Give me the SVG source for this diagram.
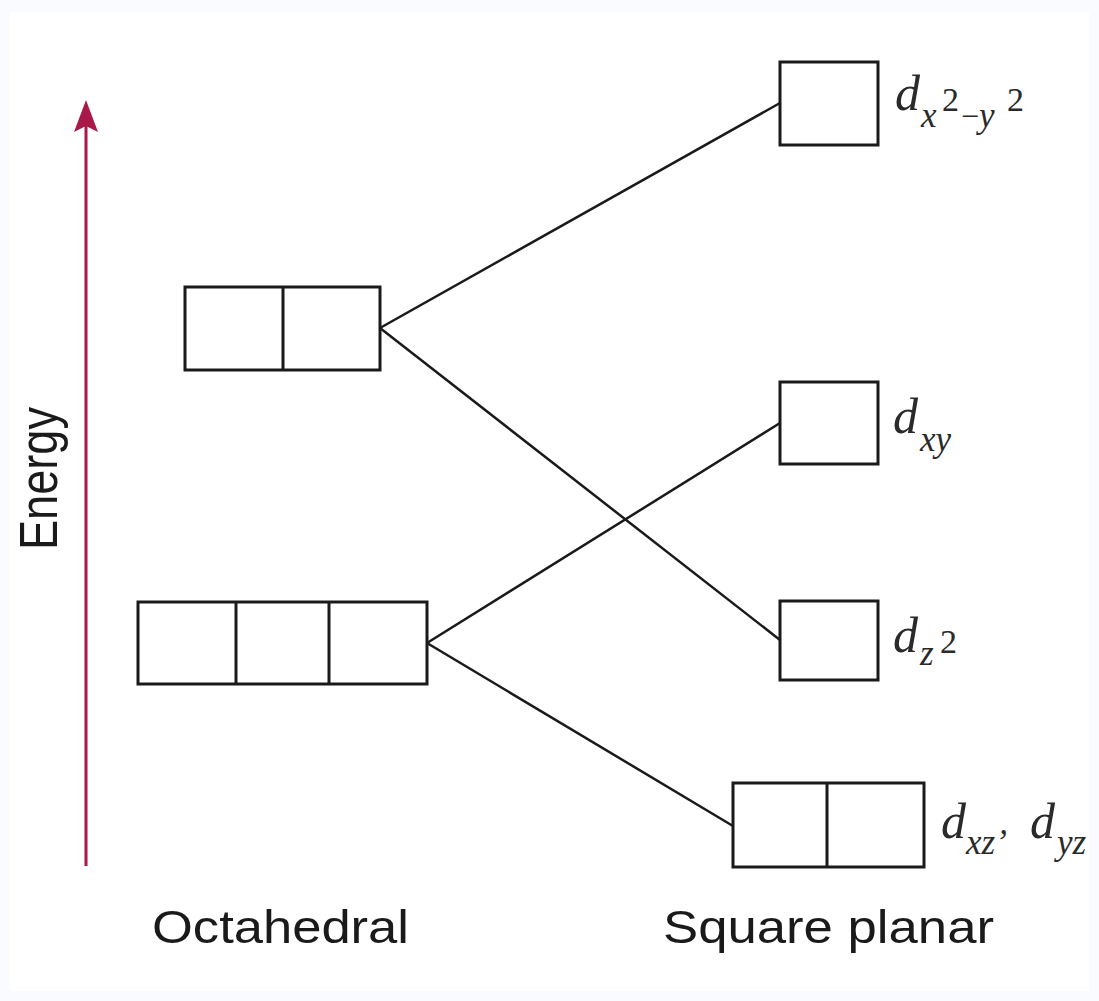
<svg xmlns="http://www.w3.org/2000/svg" width="1099" height="1001" viewBox="0 0 1099 1001">
<style>
.box{fill:#fff;stroke:#1a1a1a;stroke-width:3}
.div{stroke:#1a1a1a;stroke-width:3}
.conn{stroke:#1a1a1a;stroke-width:2.5;fill:none}
.sans{font-family:"Liberation Sans",Arial,sans-serif;fill:#1a1a1a}
.it{font-family:"Liberation Serif","Times New Roman",serif;font-style:italic;fill:#2a2a2a}
.up{font-family:"Liberation Serif","Times New Roman",serif;fill:#2a2a2a}
</style>
<rect x="0" y="0" width="1099" height="1001" fill="#f9fbfe"/>
<rect x="10" y="12" width="1079" height="979" fill="#fff"/>
<g id="connectors">
<line class="conn" x1="380" y1="328" x2="780" y2="103"/>
<line class="conn" x1="380" y1="328" x2="780" y2="640"/>
<line class="conn" x1="427" y1="643" x2="780" y2="423"/>
<line class="conn" x1="427" y1="643" x2="733" y2="826"/>
</g>
<g id="energy-axis">
<line x1="86" y1="866" x2="86" y2="125" stroke="#a8194a" stroke-width="3"/>
<path d="M86 100 L98 132 L86 126 L74 132 Z" fill="#a8194a"/>
<text class="sans" font-size="46" transform="translate(57,550) rotate(-90) scale(1,1.15)" textLength="143" lengthAdjust="spacingAndGlyphs">Energy</text>
</g>
<g id="eg-octahedral">
<rect class="box" x="185" y="287" width="195" height="83"/>
<line class="div" x1="283" y1="287" x2="283" y2="370"/>
</g>
<g id="t2g-octahedral">
<rect class="box" x="138" y="602" width="289" height="82"/>
<line class="div" x1="236" y1="602" x2="236" y2="684"/>
<line class="div" x1="329" y1="602" x2="329" y2="684"/>
</g>
<g id="dx2y2">
<rect class="box" x="780" y="62" width="98" height="83"/>
<text class="it" font-size="50" x="895" y="110">d</text>
<text class="it" font-size="35" x="921" y="127">x</text>
<text class="up" font-size="34" x="942" y="111">2</text>
<text class="up" font-size="32" x="961" y="127">−</text>
<text class="it" font-size="35" x="979" y="127">y</text>
<text class="up" font-size="34" x="1007" y="111">2</text>
</g>
<g id="dxy">
<rect class="box" x="780" y="382" width="98" height="82"/>
<text class="it" font-size="50" x="893" y="433">d</text>
<text class="it" font-size="35" x="920" y="451">xy</text>
</g>
<g id="dz2">
<rect class="box" x="780" y="601" width="98" height="79"/>
<text class="it" font-size="50" x="893" y="652">d</text>
<text class="it" font-size="35" x="920" y="665">z</text>
<text class="up" font-size="34" x="940" y="653">2</text>
</g>
<g id="dxz-dyz">
<rect class="box" x="733" y="783" width="191" height="84"/>
<line class="div" x1="827" y1="783" x2="827" y2="867"/>
<text class="it" font-size="50" x="941" y="838">d</text>
<text class="it" font-size="35" x="966" y="854">xz’</text>
<text class="it" font-size="50" x="1030" y="838">d</text>
<text class="it" font-size="35" x="1057" y="854">yz</text>
</g>
<g id="labels">
<text class="sans" font-size="46" x="152" y="943" textLength="257" lengthAdjust="spacingAndGlyphs">Octahedral</text>
<text class="sans" font-size="46" x="663" y="943" textLength="331" lengthAdjust="spacingAndGlyphs">Square planar</text>
</g>
</svg>
